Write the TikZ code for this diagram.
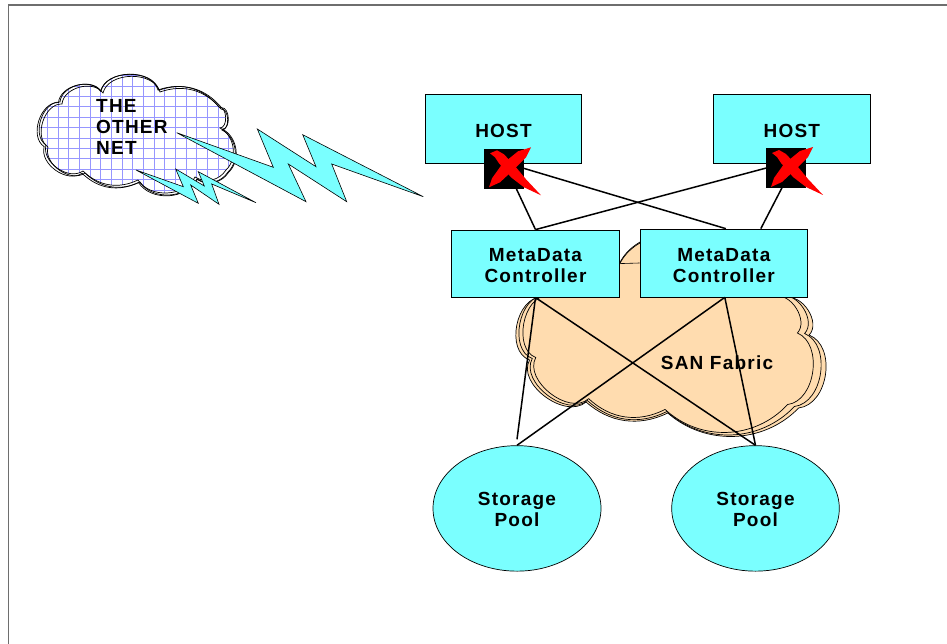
\documentclass[tikz,border=0pt]{standalone}
\usepackage{fontspec}
\usepackage{xcolor}
\usetikzlibrary{shapes.geometric, positioning, calc}
\setmainfont[LetterSpace=6.5]{Liberation Sans}

\definecolor{boxcyan}{RGB}{122,255,255}
\definecolor{fabricpeach}{RGB}{255,220,175}
\definecolor{gridblue}{RGB}{150,150,255}
\definecolor{framegray}{RGB}{110,110,110}

% Cloud outlines
\newcommand{\othernetpath}{(60,102) to[bend left=70] (101,91) to[bend left=75] (158,90)
  to[bend left=35] (219,107) to[bend left=90] (220,128) to[bend left=55] (226,170)
  to[bend left=45] (195,177) to[bend left=60] (138,180) to[bend left=35] (83,171)
  to[bend left=70] (46,145) to[bend left=75] (60,102) -- cycle}
\newcommand{\fabricpath}{(545,297) to[bend left=50] (618,266) to[bend left=60] (720,255)
  to[bend left=60] (777,298) to[bend left=75] (800,335) to[bend left=75] (790,408)
  to[bend left=45] (665,413) to[bend left=35] (587,402) to[bend left=80] (533,360)
  to[bend left=80] (545,297) -- cycle}

\tikzset{
  label text/.style={font=\fontsize{19}{21}\selectfont\bfseries, align=center},
  cyan box/.style={draw, fill=boxcyan, line width=0.7pt, inner sep=0pt, label text},
  lowered/.style={execute at begin node={\rule{0pt}{#1}}},
  fabric cloud/.style={draw, fill=fabricpeach, line width=0.7pt},
  net cloud/.style={draw, line width=0.7pt},
  bolt/.style={draw, fill=boxcyan, line width=0.6pt, line join=miter},
  wire/.style={line width=1.5pt},
  redx/.pic={
    \fill[red] (27,-21) -- (14,-17) -- (-2,-4) -- (-12,10) -- (-15,19) -- (-4,14) -- (10,1) -- (22,-11) -- cycle;
    \fill[red] (-14,-15) -- (-7,-18) -- (0,-14) -- (12,-1) -- (22,11) -- (37,27) -- (20,19) -- (7,9) -- (-5,-5) -- (-9,-11) -- cycle;
  }
}

\begin{document}
\begin{tikzpicture}[x=1pt, y=-1pt]
\useasboundingbox (0,0) rectangle (947,644);
% Page frame
\draw[framegray, line width=1.3pt] (8.5,644) -- (8.5,5) -- (947,5);

% The other net
\fill[white] \othernetpath;
\begin{scope}
\clip \othernetpath;
\foreach \gx in {0,...,18} \draw[gridblue, line width=1pt] ({36.7+\gx*10.67},60) -- ({36.7+\gx*10.67},200);
\foreach \gy in {0,...,12} \draw[gridblue, line width=1pt] (30,{75.7+\gy*10.4}) -- (240,{75.7+\gy*10.4});
\end{scope}
\draw[net cloud] \othernetpath;
\begin{scope}[shift={(-3,-2)}, scale=1.025]
\draw[net cloud] \othernetpath;
\end{scope}
\begin{scope}[shift={(2,2)}]
\draw[net cloud] \othernetpath;
\end{scope}
\node[label text, align=left, anchor=west, inner sep=0pt] (other) at (96,127) {THE\\OTHER\\NET};

% Lightning bolts
\draw[bolt] (176.7,132.7) -- (273.3,167.3) -- (257.3,129) -- (316,166.7) -- (302.7,134.7) -- (423.3,196.7)
  -- (331.7,164) -- (346.7,201.7) -- (288.3,164) -- (306,201.7) -- cycle;
\draw[bolt] (136,170) -- (183.3,186.7) -- (175.7,169) -- (204.3,186) -- (198.3,171.7) -- (256,202.7)
  -- (211.7,184) -- (219,204.3) -- (190.7,185) -- (198.3,203.3) -- cycle;

% SAN fabric
\begin{scope}[shift={(-28.5,0)}, xscale=1.047]
\draw[fabric cloud] \fabricpath;
\end{scope}
\begin{scope}[shift={(-11.4,-1.5)}, xscale=1.02]
\draw[fabric cloud] \fabricpath;
\end{scope}
\begin{scope}[shift={(13.4,4.7)}, scale=0.98]
\draw[fabric cloud] \fabricpath;
\end{scope}

% Hosts
\node[cyan box, lowered=17.5pt, minimum width=156.4pt, minimum height=69.4pt] (hosta) at (503.5,129) {HOST};
\node[cyan box, lowered=17.5pt, minimum width=156.4pt, minimum height=69pt] (hostb) at (791.8,128.7) {HOST};
\node[draw, fill=black, minimum size=39pt, inner sep=0pt] (porta) at (504,168.3) {};
\node[draw, fill=black, minimum size=39pt, inner sep=0pt] (portb) at (786,168) {};

% Controllers
\node[cyan box, lowered=38.5pt, minimum width=167.6pt, minimum height=67.3pt] (mda) at (535.5,263.6) {MetaData\\Controller};
\node[cyan box, lowered=38.5pt, minimum width=167.7pt, minimum height=68pt] (mdb) at (723.8,263) {MetaData\\Controller};

% Storage
\node[cyan box, lowered=36.5pt, ellipse, minimum width=168pt, minimum height=125.5pt] (poola) at (517,508.4) {Storage\\Pool};
\node[cyan box, lowered=36.5pt, ellipse, minimum width=167.6pt, minimum height=125.5pt] (poolb) at (755.5,508.4) {Storage\\Pool};

\node[label text, inner sep=0pt] (fabric) at (717,362.5) {SAN Fabric};

% Connections
\draw[wire] ([xshift=12pt]porta.south) -- (mda.north);
\draw[wire] (porta.east) -- ([xshift=2pt]mdb.north);
\draw[wire] (portb.west) -- (mda.north);
\draw[wire] ([xshift=-4pt]portb.south) -- ([xshift=37pt]mdb.north);
\draw[line width=0.6pt] (mda.east) -- (mdb.west);
\draw[wire] (mda.south) -- ([yshift=6pt]poola.north);
\draw[wire] (mda.south) -- (poolb.north);
\draw[wire] ([xshift=1pt]mdb.south) -- (poola.north);
\draw[wire] ([xshift=1pt]mdb.south) -- (poolb.north);

% Crossed out ports
\pic at (porta.center) {redx};
\pic at (portb.center) {redx};
\end{tikzpicture}
\end{document}
